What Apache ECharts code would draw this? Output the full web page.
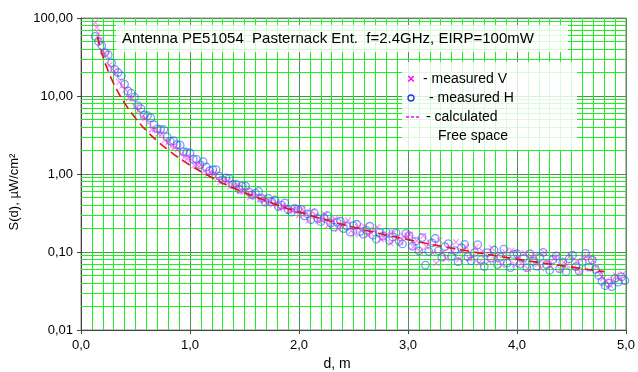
<!DOCTYPE html>
<html><head><meta charset="utf-8">
<script src="https://cdn.jsdelivr.net/npm/echarts@6/dist/echarts.min.js"></script>
<style>html,body{margin:0;padding:0;background:#fff}#c{width:638px;height:372px}</style>
</head><body><div id="c"></div>
<script>
// ---- data: [d (m), S (µW/cm²)] ----
const measuredH = [
[0.13,58],[0.16,50],[0.19,44.3],[0.22,35.9],[0.25,33.8],[0.28,26.7],[0.31,22.0],[0.34,20.0],[0.37,18.1],[0.40,14.1],
[0.43,11.6],[0.46,10.9],[0.49,9.65],[0.52,7.54],[0.55,6.9],[0.58,5.67],[0.61,5.59],[0.64,5.24],[0.67,4.28],[0.70,3.79],
[0.73,3.74],[0.76,3.71],[0.79,2.99],[0.82,2.63],[0.85,2.67],[0.88,2.37],[0.91,2.34],[0.94,1.94],[0.97,1.9],
[1.00,1.86],[1.03,1.55],[1.06,1.54],[1.09,1.31],[1.12,1.44],[1.15,1.23],[1.18,1.10],[1.21,1.14],[1.24,1.14],[1.27,0.94],
[1.30,0.84],[1.33,0.89],[1.36,0.88],[1.39,0.73],[1.42,0.74],[1.45,0.64],[1.48,0.70],[1.51,0.70],[1.54,0.59],[1.57,0.54],
[1.60,0.57],[1.63,0.60],[1.66,0.485],[1.69,0.436],[1.72,0.486],[1.75,0.441],[1.78,0.464],[1.81,0.382],[1.84,0.40],[1.87,0.427],
[1.90,0.348],[1.93,0.324],[1.96,0.362],[1.99,0.355],
[2.02,0.351],[2.05,0.291],[2.08,0.307],[2.11,0.260],[2.14,0.316],[2.17,0.270],[2.20,0.245],[2.23,0.275],[2.26,0.292],[2.29,0.234],
[2.32,0.209],[2.35,0.240],[2.38,0.248],[2.41,0.200],[2.44,0.214],[2.47,0.180],[2.50,0.218],[2.53,0.227],[2.56,0.183],[2.59,0.169],
[2.62,0.189],[2.65,0.214],[2.68,0.165],[2.71,0.146],[2.74,0.177],[2.77,0.160],[2.80,0.180],[2.83,0.141],[2.86,0.156],[2.89,0.177],
[2.92,0.137],[2.95,0.127],[2.98,0.173],
[3.01,0.162],[3.04,0.119],[3.07,0.137],[3.10,0.103],[3.13,0.153],[3.16,0.068],[3.19,0.102],[3.22,0.131],[3.25,0.150],[3.28,0.104],
[3.31,0.086],[3.34,0.117],[3.37,0.128],[3.40,0.088],[3.43,0.104],[3.46,0.075],[3.49,0.113],[3.52,0.125],[3.55,0.087],[3.58,0.077],
[3.61,0.098],[3.64,0.124],[3.67,0.080],[3.70,0.065],[3.73,0.098],[3.76,0.084],[3.79,0.106],[3.82,0.069],[3.85,0.086],[3.88,0.109],
[3.91,0.072],[3.94,0.063],[3.97,0.093],
[4.00,0.095],[4.03,0.070],[4.06,0.083],[4.09,0.063],[4.12,0.095],[4.15,0.076],[4.18,0.066],[4.21,0.085],[4.24,0.099],[4.27,0.069],
[4.30,0.058],[4.33,0.080],[4.36,0.089],[4.39,0.061],[4.42,0.074],[4.45,0.056],[4.48,0.082],[4.51,0.091],[4.54,0.065],[4.57,0.057],
[4.60,0.074],[4.63,0.096],[4.66,0.064],[4.69,0.079],[4.72,0.060],[4.75,0.050],[4.78,0.042],[4.81,0.037],[4.84,0.040],[4.87,0.036],
[4.90,0.046],[4.93,0.041],[4.96,0.048],[4.99,0.043]];

const measuredV = [
[0.13,88],[0.145,76],[0.16,64],[0.175,52],[0.20,37.5],[0.23,33.6],[0.26,24.9],[0.29,22.1],[0.32,19.5],[0.35,15.2],
[0.38,13.6],[0.41,12.0],[0.44,9.43],[0.47,9.28],[0.50,7.33],[0.53,6.52],[0.56,5.39],[0.59,5.22],[0.62,4.51],[0.65,3.72],
[0.68,3.76],[0.71,3.28],[0.74,3.24],[0.77,2.72],[0.80,2.55],[0.83,2.24],[0.86,2.21],[0.89,2.09],[0.92,1.80],[0.95,1.63],[0.98,1.60],
[1.01,1.544],[1.04,1.293],[1.07,1.309],[1.10,1.306],[1.13,1.092],[1.16,0.988],[1.19,1.048],[1.22,1.029],[1.25,0.872],[1.28,0.791],
[1.31,0.81],[1.34,0.811],[1.37,0.696],[1.40,0.715],[1.43,0.724],[1.46,0.602],[1.49,0.595],[1.52,0.603],[1.55,0.505],[1.58,0.561],
[1.61,0.514],[1.64,0.471],[1.67,0.503],[1.70,0.422],[1.73,0.450],[1.76,0.408],[1.79,0.430],[1.82,0.362],[1.85,0.383],[1.88,0.381],
[1.91,0.337],[1.94,0.343],[1.97,0.360],
[2.00,0.298],[2.03,0.352],[2.06,0.31],[2.09,0.255],[2.12,0.334],[2.15,0.295],[2.18,0.251],[2.21,0.257],[2.24,0.304],[2.27,0.221],
[2.30,0.251],[2.33,0.265],[2.36,0.198],[2.39,0.213],[2.42,0.235],[2.45,0.254],[2.48,0.186],[2.51,0.168],[2.54,0.209],[2.57,0.192],
[2.60,0.214],[2.63,0.164],[2.66,0.173],[2.69,0.194],[2.72,0.210],[2.75,0.146],[2.78,0.154],[2.81,0.169],[2.84,0.130],[2.87,0.180],
[2.90,0.152],[2.93,0.136],[2.96,0.159],[2.99,0.162],
[3.02,0.167],[3.05,0.116],[3.08,0.140],[3.11,0.101],[3.14,0.161],[3.17,0.117],[3.20,0.132],[3.23,0.097],[3.26,0.072],[3.29,0.141],
[3.32,0.098],[3.35,0.082],[3.38,0.116],[3.41,0.102],[3.44,0.134],[3.47,0.081],[3.50,0.102],[3.53,0.116],[3.56,0.083],[3.59,0.087],
[3.62,0.115],[3.65,0.072],[3.68,0.103],[3.71,0.091],[3.74,0.076],[3.77,0.112],[3.80,0.079],[3.83,0.092],[3.86,0.068],[3.89,0.099],
[3.92,0.082],[3.95,0.104],[3.98,0.069],
[4.01,0.085],[4.04,0.071],[4.07,0.097],[4.10,0.061],[4.13,0.087],[4.16,0.090],[4.19,0.070],[4.22,0.062],[4.25,0.098],[4.28,0.074],
[4.31,0.065],[4.34,0.082],[4.37,0.089],[4.40,0.060],[4.43,0.074],[4.46,0.068],[4.49,0.090],[4.52,0.063],[4.55,0.076],[4.58,0.055],
[4.61,0.082],[4.64,0.088],[4.67,0.086],[4.70,0.078],[4.73,0.064],[4.76,0.052],[4.79,0.046],[4.82,0.042],[4.85,0.038],[4.88,0.044],
[4.91,0.050],[4.94,0.045],[4.97,0.052]];

const calcD = [0.15,0.2,0.25,0.3,0.35,0.4,0.5,0.6,0.7,0.8,0.9,1.0,1.2,1.4,1.6,1.8,2.0,2.5,3.0,3.5,4.0,4.5,4.8];
const calcS = [58,32.5,20.8,14.4,10.6,8.1,5.2,3.6,2.65,2.03,1.6,1.3,0.9,0.66,0.51,0.40,0.325,0.208,0.144,0.106,0.081,0.064,0.056];

const xTicks = [0,1,2,3,4,5];
const yTicks = [0.01,0.1,1,10,100];
const titleText = 'Antenna PE51054  Pasternack Ent.  f=2.4GHz, EIRP=100mW';
const legendNames = ['- measured V','- measured H','- calculated','Free space'];
const yName = 'S(d), µW/cm²';
const xName = 'd, m';

// minor log grid levels (2..9 per decade)
const minorY = [];
for (let i = 0; i < yTicks.length - 1; i++) for (let k = 2; k <= 9; k++) minorY.push(+(yTicks[i]*k).toPrecision(3));

const FONT = 'Liberation Sans, Arial, sans-serif';
const MINOR = '#22ec22', MAJOR = '#4f8f4f';

const chart = echarts.init(document.getElementById('c'), null, {renderer:'canvas'});
chart.setOption({
  animation:false,
  backgroundColor:'#fff',
  grid:{left:81,right:12,top:18,bottom:42,show:true,borderColor:'#888',borderWidth:1,backgroundColor:'#fff'},
  xAxis:{type:'value',min:xTicks[0],max:xTicks[xTicks.length-1],interval:1,
    axisLine:{lineStyle:{color:'#444'}},
    axisTick:{show:true,length:4,lineStyle:{color:'#444'}},
    axisLabel:{color:'#000',fontFamily:FONT,fontSize:13,margin:9,formatter:v=>v.toFixed(1).replace('.',',')},
    splitLine:{show:true,lineStyle:{color:MAJOR,width:1}},
    minorTick:{show:false,splitNumber:10},
    minorSplitLine:{show:true,lineStyle:{color:MINOR,width:1}}},
  yAxis:{type:'log',logBase:10,min:yTicks[0],max:yTicks[yTicks.length-1],
    axisLine:{show:true,lineStyle:{color:'#444'}},
    axisTick:{show:true,length:4,lineStyle:{color:'#444'}},
    axisLabel:{color:'#000',fontFamily:FONT,fontSize:13,margin:8,formatter:v=>v.toFixed(2).replace('.',',')},
    splitLine:{show:true,lineStyle:{color:MAJOR,width:1}}},
  series:[
    {type:'line',data:[],z:1,silent:true,
     markLine:{silent:true,symbol:'none',label:{show:false},animation:false,
       lineStyle:{color:MINOR,type:'solid',width:1},
       data:minorY.map(v=>({yAxis:v}))}},
    {name:'measured H',type:'scatter',z:10,data:measuredH,symbol:'circle',symbolSize:7.5,
     itemStyle:{color:'rgba(255,255,255,0)',borderColor:'rgba(50,95,245,0.78)',borderWidth:1.3}},
    {name:'measured V',type:'scatter',z:11,data:measuredV,symbol:'path://M0,0L10,10M10,0L0,10',symbolSize:6,
     itemStyle:{color:'rgba(0,0,0,0)',borderColor:'rgba(255,30,235,0.65)',borderWidth:1.1}},
    {name:'calculated',type:'line',z:12,data:calcD.map((d,i)=>[d,calcS[i]]),smooth:true,showSymbol:false,
     lineStyle:{color:'#e8101a',width:1.6,type:[9,5]}}
  ],
  graphic:[
    {type:'rect',shape:{x:116,y:25,width:452,height:27},style:{fill:'rgba(255,255,255,0.82)'},z:100},
    {type:'text',x:122,y:39,style:{text:titleText,font:'15px '+FONT,fill:'#000',textVerticalAlign:'middle'},z:101},
    {type:'rect',shape:{x:402,y:62,width:175,height:88},style:{fill:'rgba(255,255,255,0.82)'},z:100},
    {type:'text',x:411,y:79,style:{text:'×',font:'bold 13px '+FONT,fill:'#ff00ff',textAlign:'center',textVerticalAlign:'middle'},z:101},
    {type:'circle',shape:{cx:411,cy:98,r:3},style:{fill:'none',stroke:'#2233ee',lineWidth:1.3},z:101},
    {type:'line',shape:{x1:406,y1:117,x2:421,y2:117},style:{stroke:'#ff00ff',lineWidth:1.5,lineDash:[3,2]},z:101},
    {type:'text',x:423,y:79,style:{text:legendNames[0],font:'14px '+FONT,fill:'#000',textVerticalAlign:'middle'},z:101},
    {type:'text',x:429,y:98,style:{text:legendNames[1],font:'14px '+FONT,fill:'#000',textVerticalAlign:'middle'},z:101},
    {type:'text',x:426,y:117,style:{text:legendNames[2],font:'14px '+FONT,fill:'#000',textVerticalAlign:'middle'},z:101},
    {type:'text',x:438,y:136,style:{text:legendNames[3],font:'14px '+FONT,fill:'#000',textVerticalAlign:'middle'},z:101},
    {type:'text',x:14,y:192,rotation:Math.PI/2,style:{text:yName,font:'13px '+FONT,fill:'#000',textAlign:'center',textVerticalAlign:'middle'},z:101},
    {type:'text',x:337,y:364,style:{text:xName,font:'14px '+FONT,fill:'#000',textAlign:'center',textVerticalAlign:'middle'},z:101}
  ]
});
</script></body></html>
